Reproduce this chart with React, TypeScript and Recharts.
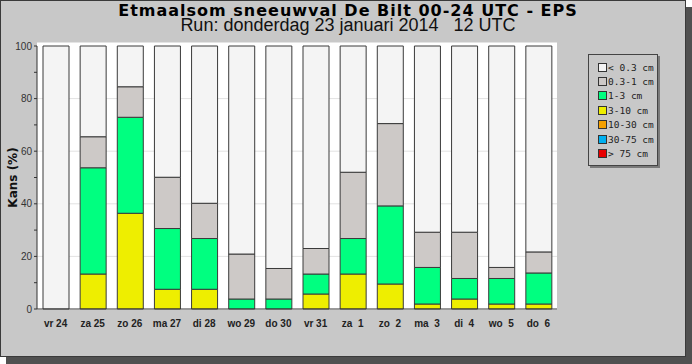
import React from "react";
import { BarChart, Bar, XAxis, YAxis, CartesianGrid, Legend } from "recharts";

// EPS dagsom sneeuwval, kans (%) per klasse
const days = ["vr 24", "za 25", "zo 26", "ma 27", "di 28", "wo 29", "do 30", "vr 31", "za  1", "zo  2", "ma  3", "di  4", "wo  5", "do  6"];
const over75 = [0, 0, 0, 0, 0, 0, 0, 0, 0, 0, 0, 0, 0, 0];
const p30_75 = [0, 0, 0, 0, 0, 0, 0, 0, 0, 0, 0, 0, 0, 0];
const p10_30 = [0, 0, 0, 0, 0, 0, 0, 0, 0, 0, 0, 0, 0, 0];
const p3_10 = [0, 13.3, 36.4, 7.5, 7.5, 0, 0, 5.7, 13.3, 9.5, 1.9, 3.8, 1.9, 1.9];
const p1_3 = [0, 40.4, 36.5, 23.1, 19.3, 3.8, 3.8, 7.6, 13.5, 29.7, 13.9, 7.8, 9.7, 11.8];
const p03_1 = [0, 11.8, 11.6, 19.5, 13.4, 17.1, 11.6, 9.7, 25.2, 31.3, 13.4, 17.6, 4.2, 8.0];
const lt03 = [100, 34.5, 15.5, 49.9, 59.8, 79.1, 84.6, 77.0, 48.0, 29.5, 70.8, 70.8, 84.2, 78.3];
const yTicks = [0, 10, 20, 30, 40, 50, 60, 70, 80, 90, 100];
const gridValues = [20, 40, 60, 80];

const data = days.map((day, i) => ({
  day,
  over75: over75[i],
  p30_75: p30_75[i],
  p10_30: p10_30[i],
  p3_10: p3_10[i],
  p1_3: p1_3[i],
  p03_1: p03_1[i],
  lt03: lt03[i],
}));

// bottom to top in the stack
const series = [
  { key: "over75", label: "> 75 cm", color: "#e80000" },
  { key: "p30_75", label: "30-75 cm", color: "#00b0f0" },
  { key: "p10_30", label: "10-30 cm", color: "#f5a000" },
  { key: "p3_10", label: "3-10 cm", color: "#eeee00" },
  { key: "p1_3", label: "1-3 cm", color: "#00ff80" },
  { key: "p03_1", label: "0.3-1 cm", color: "#cdc9c7" },
  { key: "lt03", label: "< 0.3 cm", color: "#f4f4f4" },
];

const DayTick = ({ x, y, payload }: any) => (
  <text
    x={x}
    y={y + 10}
    textAnchor="middle"
    xmlSpace="preserve"
    style={{ whiteSpace: "pre" }}
    fontFamily="Liberation Sans, Arial, sans-serif"
    fontWeight="bold"
    fontSize={10}
    fill="#222"
  >
    {payload.value}
  </text>
);

const BoxLegend = () => (
  <div
    style={{
      border: "1px solid #444",
      boxShadow: "2px 2px 0 #7a7a7a",
      background: "#c8c8c8",
      padding: "5px 0 4px 9px",
      width: 59,
      height: 101,
    }}
  >
    {[...series].reverse().map((s) => (
      <div key={s.key} style={{ display: "flex", alignItems: "center", height: 14.4 }}>
        <div
          style={{
            width: 7,
            height: 7,
            border: "1px solid #333",
            background: s.color,
            marginRight: 1,
          }}
        />
        <span
          style={{
            fontFamily: "DejaVu Sans Mono, monospace",
            fontSize: 9.5,
            color: "#222",
            whiteSpace: "pre",
          }}
        >
          {s.label}
        </span>
      </div>
    ))}
  </div>
);

export default function App() {
  return (
    <div style={{ position: "absolute", left: 0, top: 0, width: 692, height: 364, background: "#fff" }}>
      <div
        style={{
          position: "absolute",
          left: 0,
          top: 0,
          width: 684,
          height: 355,
          background: "#c8c8c8",
          border: "1px solid #3a3a3a",
          boxShadow: "6px 7px 0 #505050",
        }}
      />
      <div
        style={{
          position: "absolute",
          left: 0,
          top: 4,
          width: 696,
          textAlign: "center",
          fontFamily: "DejaVu Sans, sans-serif",
          fontWeight: "bold",
          fontSize: 16,
          letterSpacing: 1,
          color: "#000",
          lineHeight: "14px",
        }}
      >
        Etmaalsom sneeuwval De Bilt 00-24 UTC - EPS
      </div>
      <div
        style={{
          position: "absolute",
          left: 0,
          top: 19,
          width: 696,
          textAlign: "center",
          fontFamily: "Liberation Sans, Arial, sans-serif",
          fontSize: 18,
          color: "#111",
          whiteSpace: "pre",
          lineHeight: "12px",
        }}
      >
        {"Run: donderdag 23 januari 2014   12 UTC"}
      </div>
      {/* plot background */}
      <div
        style={{
          position: "absolute",
          left: 37,
          top: 42,
          width: 520,
          height: 267,
          background: "#fff",
          borderTop: "1px solid #e4e4e4",
        }}
      />
      <div style={{ position: "absolute", left: 0, top: 0 }}>
        <BarChart
          width={692}
          height={364}
          data={data}
          margin={{ top: 46, right: 65, bottom: 25, left: 0 }}
          barSize={26}
        >
          <CartesianGrid vertical={false} stroke="#e2e2e2" horizontalValues={gridValues} />
          <XAxis
            dataKey="day"
            height={30}
            interval={0}
            tick={<DayTick />}
            tickLine={false}
            axisLine={{ stroke: "#333" }}
          />
          <YAxis
            width={37}
            domain={[0, 100]}
            ticks={yTicks}
            interval={0}
            tickSize={3}
            tickLine={{ stroke: "#333" }}
            axisLine={{ stroke: "#333" }}
            tickFormatter={(v: number) => (v % 20 === 0 ? String(v) : "")}
            tick={{ fontFamily: "Liberation Sans, Arial, sans-serif", fontSize: 10, fill: "#333" }}
            label={{
              value: "Kans (%)",
              angle: -90,
              position: "insideLeft",
              dx: 8,
              style: { fontFamily: "DejaVu Sans, sans-serif", fontWeight: "bold", fontSize: 12, fill: "#111", textAnchor: "middle" },
            }}
          />
          <Legend
            content={<BoxLegend />}
            layout="vertical"
            align="right"
            verticalAlign="top"
            wrapperStyle={{ position: "absolute", left: 588, top: 54, width: 70, height: 112 }}
          />
          {series.map((s) => (
            <Bar
              key={s.key}
              dataKey={s.key}
              name={s.label}
              stackId="a"
              fill={s.color}
              stroke="#3a3a3a"
              strokeWidth={1}
              isAnimationActive={false}
            />
          ))}
        </BarChart>
      </div>
    </div>
  );
}
